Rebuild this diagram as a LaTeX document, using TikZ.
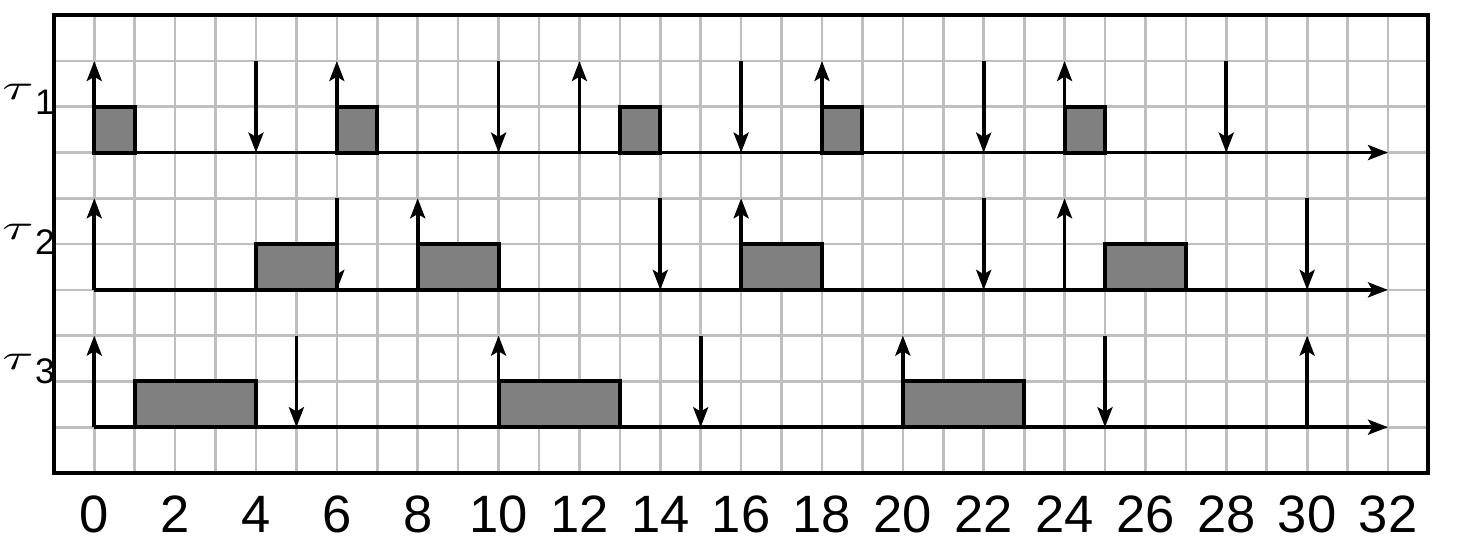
\documentclass[tikz,border=0pt]{standalone}
\usepackage{fontspec}
\setmainfont{Liberation Sans}
\usepackage{graphicx}
\usepackage{tikz}
\usetikzlibrary{arrows.meta}

\begin{document}
\begin{tikzpicture}
	[
	 x = 1cm,
	 y = 1.132cm,
	 Grd/.style = {draw = lightgray,
	               line width = 1.9pt,
	               step = 1},
	 Frm/.style = {draw, line width = 2.8pt},
	 Arw/.style = {line width = 2.7pt,
	               -{Stealth[length=14pt, width=10.5pt, inset=3pt]}},
	 Job/.style = {draw,
	               fill = gray,
	               line width = 2.8pt},
	 Tk/.style  = {inner sep = 0pt,
	               anchor = base,
	               font = \fontsize{37}{40}\selectfont},
	 Tau/.style = {inner sep = 0pt,
	               anchor = base west,
	               font = \fontsize{25}{28}\selectfont}
	]

	\newcommand{\Rls}[2]{\draw[Arw] (#1,#2) -- (#1,#2+2);}
	\newcommand{\Ddl}[2]{\draw[Arw] (#1,#2+2) -- (#1,#2);}
	\newcommand{\Run}[3]{\draw[Job] (#1,#3) rectangle (#2,#3+1);}
	\newcommand{\TauLbl}[1]{\scalebox{4.0}[2.5]{\normalsize$\tau$}\hspace{1pt}\raisebox{-10pt}{#1}}

	\useasboundingbox (-2.332,-2.893) rectangle (33.88,9.334);

	% background grid and frame
	\draw[Grd] (-1,-1) grid (33,9);
	\draw[Frm] (-1,-1) rectangle (33,9);

	% task names
	\node[Tau] (t1) at (-2.28,7.15) {\TauLbl{1}};
	\node[Tau] (t2) at (-2.28,4.09) {\TauLbl{2}};
	\node[Tau] (t3) at (-2.28,1.26) {\TauLbl{3}};

	% time axes
	\draw[Arw] (0,6) -- (32,6);
	\draw[Arw] (0,3) -- (32,3);
	\draw[Arw] (0,0) -- (32,0);

	% tau 1
	\Rls{0}{6} \Rls{6}{6} \Rls{12}{6} \Rls{18}{6} \Rls{24}{6}
	\Ddl{4}{6} \Ddl{10}{6} \Ddl{16}{6} \Ddl{22}{6} \Ddl{28}{6}
	\Run{0}{1}{6} \Run{6}{7}{6} \Run{13}{14}{6} \Run{18}{19}{6} \Run{24}{25}{6}

	% tau 2
	\Rls{0}{3} \Rls{8}{3} \Rls{16}{3} \Rls{24}{3}
	\Ddl{6}{3} \Ddl{14}{3} \Ddl{22}{3} \Ddl{30}{3}
	\Run{4}{6}{3} \Run{8}{10}{3} \Run{16}{18}{3} \Run{25}{27}{3}

	% tau 3
	\Rls{0}{0} \Rls{10}{0} \Rls{20}{0} \Rls{30}{0}
	\Ddl{5}{0} \Ddl{15}{0} \Ddl{25}{0}
	\Run{1}{4}{0} \Run{10}{13}{0} \Run{20}{23}{0}

	% time labels
	\node[Tk] (n0)  at (0,-2.3)  {0};
	\node[Tk] (n2)  at (2,-2.3)  {2};
	\node[Tk] (n4)  at (4,-2.3)  {4};
	\node[Tk] (n6)  at (6,-2.3)  {6};
	\node[Tk] (n8)  at (8,-2.3)  {8};
	\node[Tk] (n10) at (10,-2.3) {10};
	\node[Tk] (n12) at (12,-2.3) {12};
	\node[Tk] (n14) at (14,-2.3) {14};
	\node[Tk] (n16) at (16,-2.3) {16};
	\node[Tk] (n18) at (18,-2.3) {18};
	\node[Tk] (n20) at (20,-2.3) {20};
	\node[Tk] (n22) at (22,-2.3) {22};
	\node[Tk] (n24) at (24,-2.3) {24};
	\node[Tk] (n26) at (26,-2.3) {26};
	\node[Tk] (n28) at (28,-2.3) {28};
	\node[Tk] (n30) at (30,-2.3) {30};
	\node[Tk] (n32) at (32,-2.3) {32};
\end{tikzpicture}
\end{document}
